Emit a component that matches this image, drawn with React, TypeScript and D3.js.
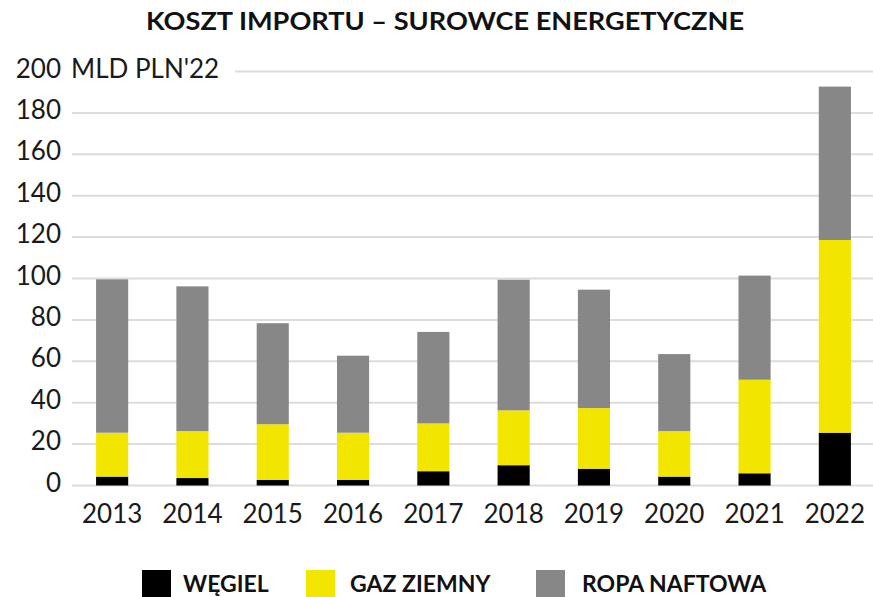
import React from 'react'
import * as d3 from 'd3'

const years = ['2013', '2014', '2015', '2016', '2017', '2018', '2019', '2020', '2021', '2022']
const coal = [4.3, 3.6, 2.7, 2.7, 6.9, 9.8, 8.1, 4.3, 5.9, 25.5]
const gas = [21.2, 22.7, 26.9, 22.8, 23.1, 26.5, 29.3, 22.0, 45.2, 93.1]
const oil = [74.1, 69.9, 48.8, 37.2, 44.2, 63.1, 57.2, 37.2, 50.3, 74.1]
const yTicks = [0, 20, 40, 60, 80, 100, 120, 140, 160, 180, 200]

const seriesKeys = ['coal', 'gas', 'oil']
const seriesNames = ['WĘGIEL', 'GAZ ZIEMNY', 'ROPA NAFTOWA']
const colors = ['#000000', '#f2e500', '#878787']

const W = 873
const H = 597
const font = 'Lato, sans-serif'

export default function App() {
  const rows = years.map((y, i) => ({ year: y, coal: coal[i], gas: gas[i], oil: oil[i] }))
  const stacked = d3.stack<any>().keys(seriesKeys)(rows)

  const x = d3.scaleBand().domain(years).range([74, 873]).paddingInner(0.6).paddingOuter(0.275)
  const y = d3.scaleLinear().domain([0, 200]).range([485.5, 71.5])

  // legend layout
  const legendBox = [142, 306, 536]
  const legendText = [183, 350, 582]

  return (
    <svg width={W} height={H} style={{ position: 'absolute', left: 0, top: 0, background: '#fff' }}>
      <text x={146} y={30} textLength={598} lengthAdjust="spacingAndGlyphs" fontFamily={font} fontWeight={700} fontSize={25} fill="#111">
        KOSZT IMPORTU – SUROWCE ENERGETYCZNE
      </text>

      {/* gridlines */}
      {yTicks.map(t => (
        <line key={t} x1={t === 200 ? 235 : 72} x2={W} y1={y(t)} y2={y(t)} stroke="#dcdcdc" strokeWidth={2} />
      ))}

      {/* y tick labels */}
      {yTicks.map(t => (
        <text key={t} x={61} y={y(t) + 6} textAnchor="end" fontFamily={font} fontSize={26} fill="#1a1a1a">
          {t}
        </text>
      ))}
      <text x={71} y={y(200) + 6} fontFamily={font} fontSize={26} fill="#1a1a1a">MLD PLN'22</text>

      {/* bars */}
      {stacked.map((s, si) => (
        <g key={s.key} fill={colors[si]}>
          {s.map((d, i) => (
            <rect key={i} x={x(years[i])} width={x.bandwidth()} y={y(d[1])} height={y(d[0]) - y(d[1])} />
          ))}
        </g>
      ))}

      {/* x labels */}
      {years.map(yr => (
        <text key={yr} x={(x(yr) as number) + x.bandwidth() / 2} y={523} textAnchor="middle" fontFamily={font} fontSize={26} fill="#1a1a1a">
          {yr}
        </text>
      ))}

      {/* legend */}
      {seriesNames.map((n, i) => (
        <g key={n}>
          <rect x={legendBox[i]} y={570} width={29} height={27} fill={colors[i]} />
          <text x={legendText[i]} y={592} fontFamily={font} fontWeight={700} fontSize={23} fill="#111">{n}</text>
        </g>
      ))}
    </svg>
  )
}
